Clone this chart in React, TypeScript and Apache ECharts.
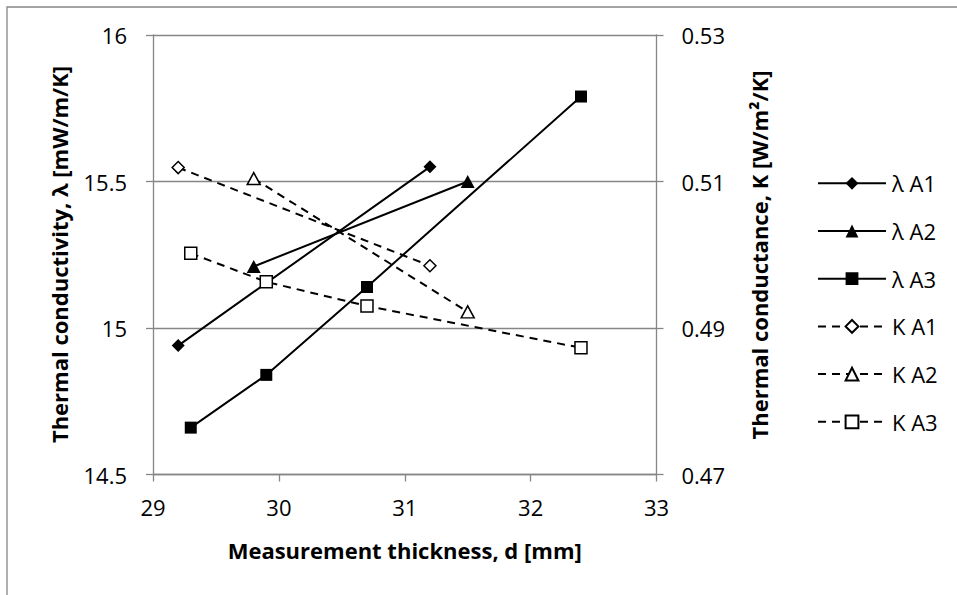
import React, { useEffect, useRef } from "react";
import * as echarts from "echarts";

// Measurement thickness d [mm] for each sample
const thicknessA1 = [29.2, 31.2];
const thicknessA2 = [29.8, 31.5];
const thicknessA3 = [29.3, 29.9, 30.7, 32.4];

// Thermal conductivity λ [mW/m/K]
const lambdaA1 = [14.94, 15.55];
const lambdaA2 = [15.21, 15.5];
const lambdaA3 = [14.66, 14.84, 15.14, 15.79];

// Thermal conductance K [W/m²/K]
const kA1 = [0.5119, 0.4985];
const kA2 = [0.5104, 0.4922];
const kA3 = [0.5002, 0.4963, 0.493, 0.4873];

const seriesNames = ["λ A1", "λ A2", "λ A3", "K A1", "K A2", "K A3"];

const xAxisTitle = "Measurement thickness, d [mm]";
const leftAxisTitle = "Thermal conductivity, λ [mW/m/K]";
const rightAxisTitle = "Thermal conductance, K [W/m²/K]";

const FONT = "'Open Sans', 'Noto Sans', sans-serif";
const GRAY = "#868686";

const zip = (xs: number[], ys: number[]) => xs.map((x, i) => [x, ys[i]]);

export default function App() {
  const ref = useRef<HTMLDivElement | null>(null);

  useEffect(() => {
    if (!ref.current) return;
    const chart = echarts.init(ref.current, undefined, { renderer: "svg" });

    const solid = (name: string, data: number[][], symbol: string, size: any) => ({
      name,
      type: "line",
      yAxisIndex: 0,
      data,
      symbol,
      symbolSize: size,
      showSymbol: true,
      lineStyle: { color: "#000", width: 2, type: "solid" },
      itemStyle: { color: "#000", borderColor: "#000", borderWidth: 0 },
      emphasis: { disabled: true },
      z: 2,
    });

    const dashed = (name: string, data: number[][], symbol: string, size: any) => ({
      name,
      type: "line",
      yAxisIndex: 1,
      data,
      symbol,
      symbolSize: size,
      showSymbol: true,
      lineStyle: { color: "#000", width: 2, type: [8, 6] },
      itemStyle: { color: "#fff", borderColor: "#000", borderWidth: 1.5 },
      emphasis: { disabled: true },
      z: 3,
    });

    const option: any = {
      animation: false,
      backgroundColor: "#fff",
      textStyle: { fontFamily: FONT },
      grid: { left: 153, right: 300.5, top: 35, bottom: 120.5, containLabel: false },
      xAxis: {
        type: "value",
        min: 29,
        max: 33,
        interval: 1,
        axisLine: { show: true, onZero: false, lineStyle: { color: GRAY, width: 1.3 } },
        axisTick: { show: true, length: 7, lineStyle: { color: GRAY, width: 1.3 } },
        axisLabel: { color: "#000", fontSize: 22, fontFamily: FONT, margin: 21 },
        splitLine: { show: false },
      },
      yAxis: [
        {
          type: "value",
          position: "left",
          min: 14.5,
          max: 16,
          interval: 0.5,
          axisLine: { show: true, lineStyle: { color: GRAY, width: 1.3 } },
          axisTick: { show: true, length: 7, lineStyle: { color: GRAY, width: 1.3 } },
          axisLabel: {
            color: "#000",
            fontSize: 22,
            fontFamily: FONT,
            margin: 26,
            formatter: (v: number) => String(v),
          },
          splitLine: { show: true, lineStyle: { color: GRAY, width: 1.3 } },
        },
        {
          type: "value",
          position: "right",
          min: 0.47,
          max: 0.53,
          interval: 0.02,
          axisLine: { show: true, lineStyle: { color: GRAY, width: 1.3 } },
          axisTick: { show: true, length: 7, lineStyle: { color: GRAY, width: 1.3 } },
          axisLabel: {
            color: "#000",
            fontSize: 22,
            fontFamily: FONT,
            margin: 25,
            formatter: (v: number) => v.toFixed(2),
          },
          splitLine: { show: false },
        },
      ],
      legend: {
        orient: "vertical",
        left: 817,
        top: 172.3,
        padding: 0,
        itemWidth: 68,
        itemHeight: 16,
        itemGap: 25.7,
        data: seriesNames,
        selectedMode: false,
        textStyle: { color: "#000", fontSize: 22, fontFamily: FONT, padding: [0, 0, 0, 1] },
      },
      graphic: [
        {
          type: "rect",
          silent: true,
          shape: { x: 7, y: 7, width: 2000, height: 2000 },
          style: { fill: "none", stroke: GRAY, lineWidth: 1.3 },
          z: -10,
        },
        {
          type: "text",
          x: 404.7,
          y: 549.5,
          style: {
            text: xAxisTitle,
            fontFamily: FONT,
            fontWeight: "bold",
            fontSize: 22,
            fill: "#000",
            textAlign: "center",
            textVerticalAlign: "middle",
          },
        },
        {
          type: "text",
          x: 58.5,
          y: 254.5,
          rotation: Math.PI / 2,
          style: {
            text: leftAxisTitle,
            fontFamily: FONT,
            fontWeight: "bold",
            fontSize: 22,
            fill: "#000",
            textAlign: "center",
            textVerticalAlign: "middle",
          },
        },
        {
          type: "text",
          x: 758.5,
          y: 255,
          rotation: Math.PI / 2,
          style: {
            text: rightAxisTitle,
            fontFamily: FONT,
            fontWeight: "bold",
            fontSize: 22,
            fill: "#000",
            textAlign: "center",
            textVerticalAlign: "middle",
          },
        },
      ],
      series: [
        solid(seriesNames[0], zip(thicknessA1, lambdaA1), "diamond", 13),
        solid(seriesNames[1], zip(thicknessA2, lambdaA2), "triangle", [14, 13]),
        solid(seriesNames[2], zip(thicknessA3, lambdaA3), "rect", 12),
        dashed(seriesNames[3], zip(thicknessA1, kA1), "diamond", 12),
        dashed(seriesNames[4], zip(thicknessA2, kA2), "triangle", [13, 12]),
        dashed(seriesNames[5], zip(thicknessA3, kA3), "rect", 12),
      ],
    };

    chart.setOption(option);
    return () => chart.dispose();
  }, []);

  return (
    <div
      ref={ref}
      style={{ position: "absolute", left: 0, top: 0, width: 957, height: 595, background: "#fff" }}
    />
  );
}
